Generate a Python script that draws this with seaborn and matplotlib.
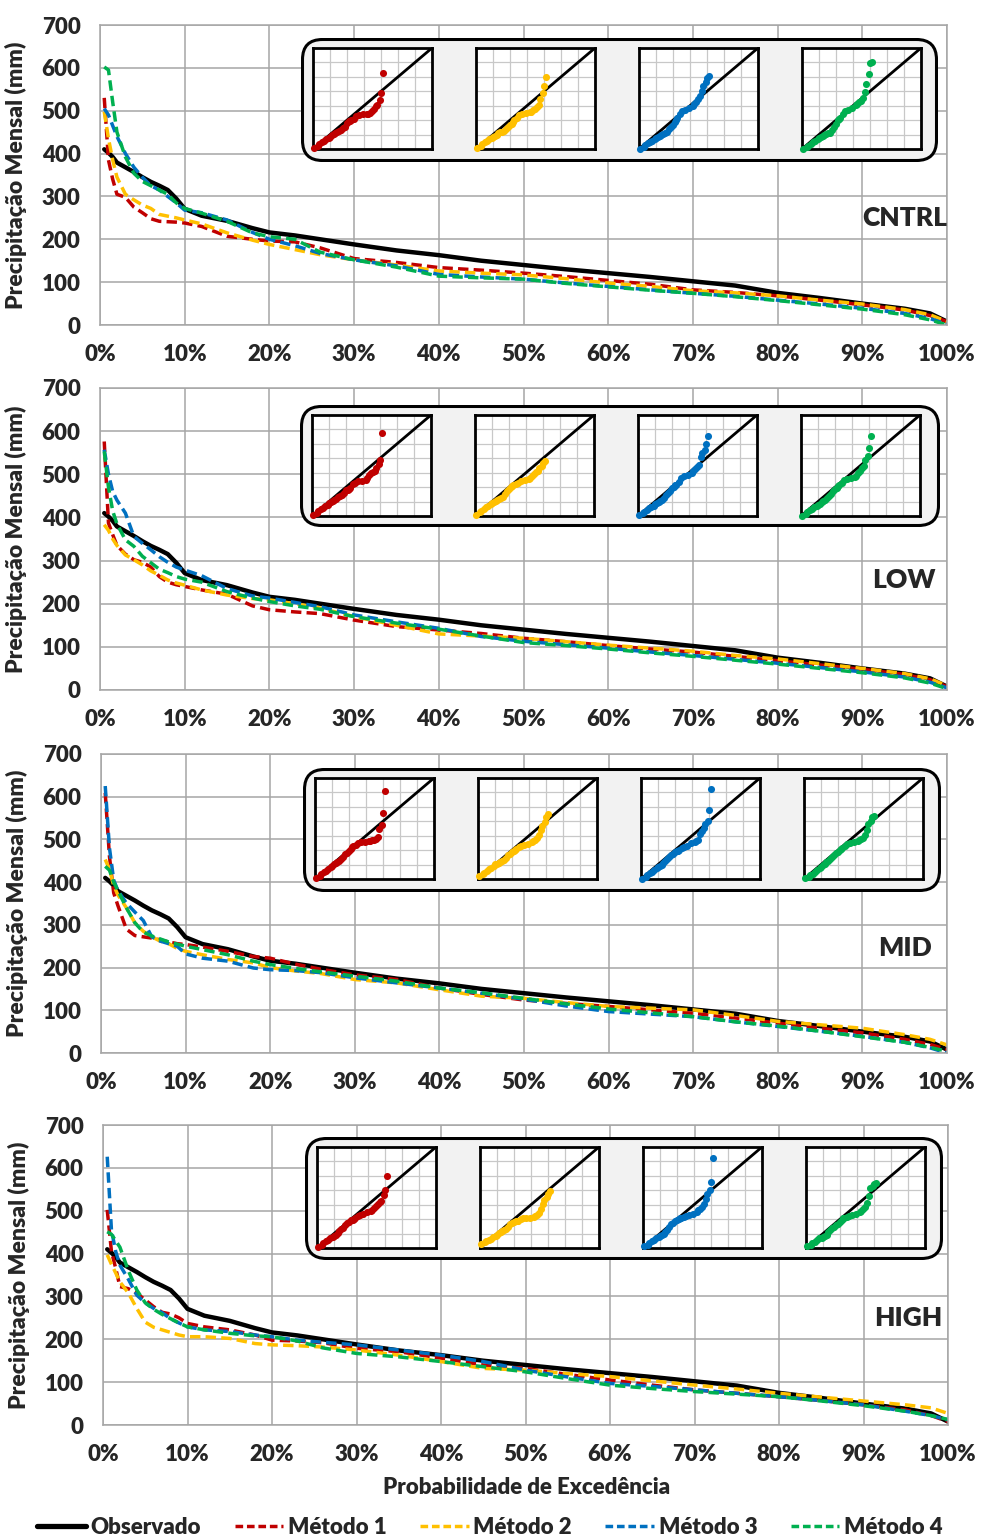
import matplotlib
matplotlib.use("Agg")
import matplotlib.pyplot as plt
from matplotlib.patches import FancyBboxPatch
from matplotlib.lines import Line2D
import numpy as np
import pandas as pd
import seaborn as sns

# probabilidade de excedencia (%)
PROB = [0.5, 1, 1.5, 2, 3, 4, 5, 6, 7, 8, 9, 10, 12, 15, 18, 20, 23, 26, 30, 35,
        40, 45, 50, 55, 60, 65, 70, 75, 80, 85, 90, 95, 98, 100]

OBS = [410, 402, 392, 379, 368, 357, 345, 334, 325, 315, 295, 271, 255, 243, 226, 216, 209, 200, 188, 174,
       163, 150, 140, 130, 121, 112, 102, 92, 75, 63, 50, 38, 27, 8]

CNTRL_M1 = [530, 385, 340, 305, 298, 275, 262, 248, 242, 241, 240, 238, 230, 207, 200, 196, 194, 180, 155, 146,
            134, 128, 121, 113, 104, 95, 82, 76, 68, 58, 47, 35, 22, 8]
CNTRL_M2 = [498, 435, 385, 345, 305, 292, 280, 272, 258, 254, 250, 245, 236, 215, 198, 188, 176, 164, 152, 140,
            126, 121, 117, 108, 98, 90, 80, 75, 68, 58, 49, 36, 24, 8]
CNTRL_M3 = [505, 490, 465, 440, 400, 368, 345, 325, 315, 300, 285, 268, 262, 245, 216, 200, 185, 167, 152, 138,
            118, 112, 107, 98, 90, 82, 74, 67, 58, 49, 39, 27, 15, 2]
CNTRL_M4 = [602, 595, 520, 450, 392, 354, 335, 325, 315, 305, 285, 272, 261, 242, 215, 206, 200, 170, 152, 135,
            114, 110, 107, 97, 89, 81, 74, 66, 57, 47, 37, 24, 12, 0]

LOW_M1 = [576, 387, 360, 335, 315, 302, 296, 285, 263, 250, 244, 240, 232, 222, 195, 186, 181, 177, 162, 147,
          139, 131, 120, 112, 103, 95, 88, 78, 68, 58, 48, 36, 24, 8]
LOW_M2 = [383, 370, 350, 335, 313, 302, 290, 276, 266, 255, 248, 243, 232, 220, 212, 209, 200, 190, 170, 150,
          130, 125, 120, 112, 104, 97, 90, 80, 72, 61, 50, 38, 26, 10]
LOW_M3 = [557, 500, 460, 440, 410, 356, 340, 325, 309, 296, 285, 278, 265, 235, 218, 213, 203, 193, 174, 158,
          143, 124, 113, 105, 97, 88, 80, 71, 62, 52, 42, 30, 18, 5]
LOW_M4 = [553, 470, 415, 385, 348, 333, 310, 295, 280, 272, 263, 257, 250, 228, 213, 205, 195, 187, 170, 155,
          141, 125, 110, 103, 95, 86, 78, 69, 60, 50, 40, 28, 16, 3]

MID_M1 = [609, 460, 375, 345, 290, 275, 272, 269, 265, 260, 256, 254, 248, 238, 226, 222, 208, 196, 183, 172,
          152, 137, 124, 116, 109, 101, 93, 82, 70, 58, 47, 32, 20, 8]
MID_M2 = [453, 430, 392, 370, 340, 305, 285, 272, 262, 256, 245, 238, 230, 219, 211, 200, 192, 186, 172, 164,
          148, 133, 128, 118, 109, 105, 101, 88, 74, 66, 58, 43, 32, 19]
MID_M3 = [625, 480, 405, 380, 351, 330, 310, 272, 262, 256, 250, 232, 222, 215, 199, 195, 193, 188, 176, 164,
          152, 140, 126, 110, 97, 91, 85, 73, 62, 51, 39, 25, 12, 0]
MID_M4 = [437, 428, 400, 380, 340, 305, 283, 274, 267, 260, 255, 250, 242, 230, 215, 207, 198, 190, 180, 168,
          152, 141, 128, 115, 103, 94, 85, 73, 63, 51, 38, 25, 13, 4]

HIGH_M1 = [502, 405, 366, 323, 318, 307, 292, 276, 263, 259, 250, 237, 229, 222, 210, 198, 196, 192, 179, 171,
           156, 140, 132, 118, 105, 93, 82, 74, 66, 57, 47, 35, 22, 8]
HIGH_M2 = [397, 375, 355, 334, 308, 272, 240, 228, 222, 216, 210, 206, 206, 202, 190, 187, 185, 182, 175, 163,
           148, 132, 128, 120, 113, 103, 93, 84, 74, 65, 56, 47, 40, 27]
HIGH_M3 = [626, 455, 405, 373, 340, 303, 285, 272, 262, 248, 238, 229, 222, 218, 210, 206, 198, 193, 187, 175,
           163, 148, 128, 112, 97, 90, 82, 74, 66, 57, 47, 32, 22, 12]
HIGH_M4 = [451, 445, 430, 415, 360, 315, 285, 270, 258, 248, 238, 229, 222, 214, 208, 206, 196, 180, 167, 159,
           148, 136, 124, 108, 93, 85, 78, 72, 66, 56, 45, 32, 22, 13]

SCENARIOS = ["CNTRL", "LOW", "MID", "HIGH"]
METHODS = ["Método 1", "Método 2", "Método 3", "Método 4"]
DATA = {
    "CNTRL": [CNTRL_M1, CNTRL_M2, CNTRL_M3, CNTRL_M4],
    "LOW": [LOW_M1, LOW_M2, LOW_M3, LOW_M4],
    "MID": [MID_M1, MID_M2, MID_M3, MID_M4],
    "HIGH": [HIGH_M1, HIGH_M2, HIGH_M3, HIGH_M4],
}
COLORS = ["#C00000", "#FFC000", "#0070C0", "#00B050"]

W, H = 981, 1537
# pixel boxes: left(0%), top(700), right(100%), bottom(0)
PANELS = [(100, 25, 947, 325), (100, 388, 947, 690), (101, 754, 947, 1053), (103, 1125, 948, 1425)]
BOXES = [(301, 38, 938, 162), (300, 405, 940, 527), (303, 768, 941, 892), (305, 1137, 943, 1260)]
LABEL_POS = [(1.0, 250), (0.986, 255), (0.982, 245), (0.993, 250)]

GRID = "#a6a6a6"
DASH = (0, (3.0, 1.5))


def rect(l, t, r, b):
    return [l / W, 1 - b / H, (r - l) / W, (b - t) / H]


sns.set_style("white")
plt.rcParams['font.family'] = ['Lato', 'DejaVu Sans']
plt.rcParams['font.weight'] = 'heavy'
plt.rcParams['axes.labelweight'] = 'heavy'

fig = plt.figure(figsize=(W / 100, H / 100), dpi=100)
prob = np.array(PROB) / 100.0

for i, sc in enumerate(SCENARIOS):
    ax = fig.add_axes(rect(*PANELS[i]))
    ax.set_axisbelow(True)
    sns.lineplot(x=prob, y=OBS, ax=ax, color="black", lw=3.2)
    for m, vals in enumerate(DATA[sc]):
        sns.lineplot(x=prob, y=vals, ax=ax, color=COLORS[m], lw=2.5, linestyle=DASH)
    ax.set_xlim(0, 1)
    ax.set_ylim(0, 700)
    ax.set_xticks(np.arange(0, 1.01, 0.1))
    ax.set_xticklabels([f"{k * 10}%" for k in range(11)])
    ax.set_yticks(range(0, 701, 100))
    ax.grid(True, color=GRID, lw=1.1)
    ax.tick_params(length=6, width=1.1, color=GRID, pad=8, labelsize=16)
    for s in ax.spines.values():
        s.set_color(GRID)
        s.set_linewidth(1.1)
    ax.set_ylabel("Precipitação Mensal (mm)", fontsize=16.5)
    ax.yaxis.set_label_coords(-0.086, 0.5)
    ax.set_xlabel("")
    ax.text(LABEL_POS[i][0], LABEL_POS[i][1], sc, ha="right", va="center", fontsize=19)

    # inset frame
    l, t, r, b = BOXES[i]
    bax = fig.add_axes(rect(l, t, r, b))
    bax.set_xlim(0, r - l)
    bax.set_ylim(0, b - t)
    bax.axis("off")
    bax.add_patch(FancyBboxPatch((1.5, 1.5), r - l - 3, b - t - 3,
                                 boxstyle="round,pad=0,rounding_size=20",
                                 fc="#f2f2f2", ec="black", lw=2.2))
    for m, vals in enumerate(DATA[sc]):
        il = l + 12 + m * 163
        it = t + 10
        iax = fig.add_axes(rect(il, it, il + 119, it + 101))
        iax.set_facecolor("white")
        iax.set_xlim(0, 700)
        iax.set_ylim(0, 700)
        iax.set_xticks(range(0, 701, 100))
        iax.set_yticks(range(0, 701, 100))
        iax.grid(True, color="#c8c8c8", lw=0.9)
        iax.set_axisbelow(True)
        iax.tick_params(length=0, labelbottom=False, labelleft=False)
        for s in iax.spines.values():
            s.set_color("black")
            s.set_linewidth(2.0)
        iax.plot([0, 700], [0, 700], color="black", lw=2.0)
        sns.scatterplot(x=OBS, y=vals, ax=iax, color=COLORS[m], s=26, linewidth=0, clip_on=False, zorder=3)
        iax.set_xlabel("")
        iax.set_ylabel("")

fig.text(527 / W, 1 - 1488 / H, "Probabilidade de Excedência", ha="center", va="center", fontsize=16)

handles = [Line2D([], [], color="black", lw=3.8)]
for c in COLORS:
    handles.append(Line2D([], [], color=c, lw=2.5, linestyle=(0, (2.2, 1.1))))
fig.legend(handles, ["Observado"] + METHODS, loc="center", bbox_to_anchor=(490 / W, 1 - 1527 / H),
           ncol=5, frameon=False, fontsize=16, handlelength=2.2, columnspacing=1.5,
           handletextpad=0.2, borderpad=0)

fig.savefig("out.png", dpi=100)
